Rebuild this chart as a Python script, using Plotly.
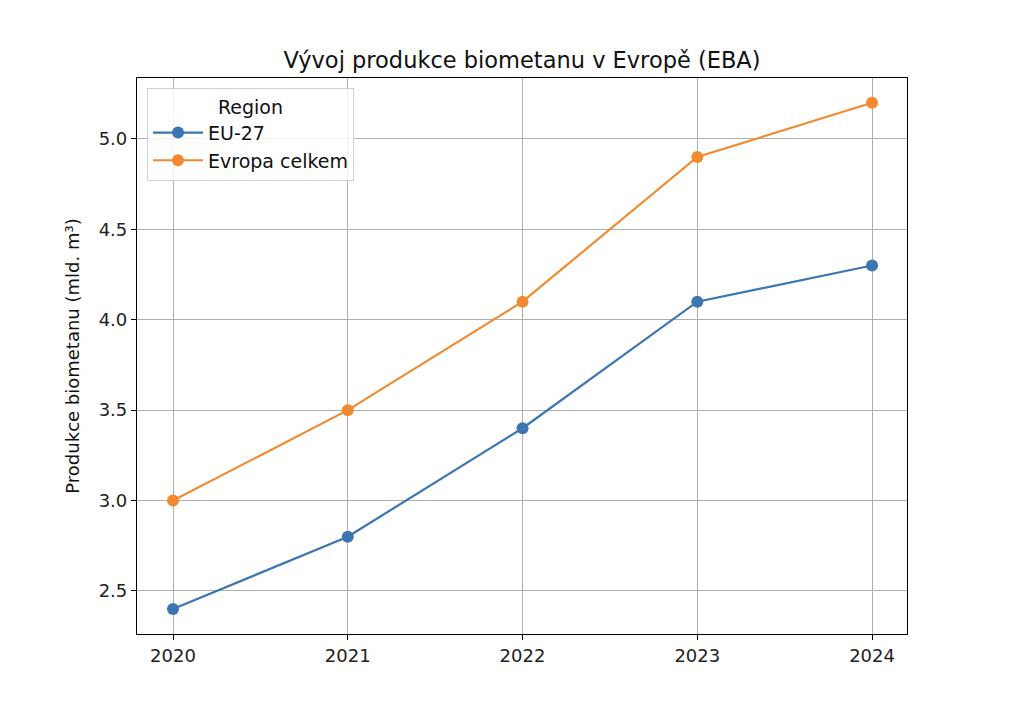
import plotly.graph_objects as go

years = [2020, 2021, 2022, 2023, 2024]
eu27 = [2.4, 2.8, 3.4, 4.1, 4.3]
europe_total = [3.0, 3.5, 4.1, 4.9, 5.2]
series_names = ["EU-27", "Evropa celkem"]
colors = ["#3b75b2", "#f28a30"]

fig = go.Figure()
for name, vals, c in zip(series_names, [eu27, europe_total], colors):
    fig.add_trace(go.Scatter(
        x=years, y=vals, mode="lines+markers", name=name,
        line=dict(color=c, width=2.2), marker=dict(color=c, size=12)))

axis_common = dict(
    showline=True, linecolor="black", linewidth=1.2, mirror=True,
    showgrid=True, gridcolor="#b0b0b0", gridwidth=1,
    ticks="outside", ticklen=5, tickcolor="black",
    tickfont=dict(family="DejaVu Sans", size=18, color="#222"),
    zeroline=False)

fig.update_xaxes(range=[2019.794, 2024.2], tickvals=years,
                 ticktext=[str(y) for y in years], **axis_common)
fig.update_yaxes(range=[2.262, 5.337], tickvals=[2.5, 3.0, 3.5, 4.0, 4.5, 5.0],
                 ticktext=["2.5", "3.0", "3.5", "4.0", "4.5", "5.0"],
                 title=dict(text="Produkce biometanu (mld. m³)",
                            font=dict(family="DejaVu Sans", size=18, color="#111"),
                            standoff=14),
                 **axis_common)

fig.update_layout(
    width=1024, height=721,
    margin=dict(l=129, r=125, t=70, b=95),
    paper_bgcolor="white", plot_bgcolor="white",
    title=dict(text="Vývoj produkce biometanu v Evropě (EBA)",
               font=dict(family="DejaVu Sans", size=22.5, color="#111"),
               x=0.5, xanchor="center", xref="paper", y=0.928, yanchor="middle"),
    legend=dict(x=0.013, y=0.982, xanchor="left", yanchor="top",
                bgcolor="rgba(255,255,255,0.85)", bordercolor="#d0d0d0", borderwidth=1,
                itemwidth=50,
                title=dict(text="Region", side="top center",
                           font=dict(family="DejaVu Sans", size=19, color="#111")),
                font=dict(family="DejaVu Sans", size=19, color="#111")),
    showlegend=True,
)

fig.write_html("out.html")
